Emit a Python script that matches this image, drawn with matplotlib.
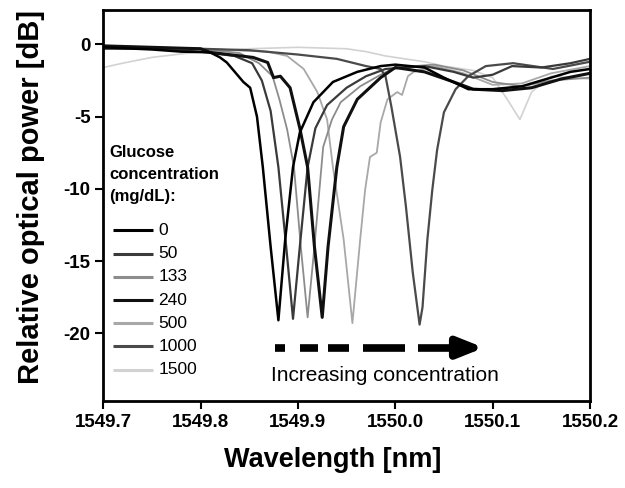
import matplotlib
matplotlib.use("Agg")
import matplotlib.pyplot as plt

plt.rcParams['font.family'] = ['Liberation Sans', 'DejaVu Sans']

# glucose concentration (mg/dL) and line look for each trace
conc_labels = ["0", "50", "133", "240", "500", "1000", "1500"]
conc_colors = ["#000000", "#3a3a3a", "#8c8c8c", "#101010", "#a8a8a8", "#4a4a4a", "#d2d2d2"]
conc_widths = [1.8, 1.6, 1.3, 2.2, 1.3, 1.6, 1.2]

# spectra: wavelength [nm], relative power [dB]
wl_0 = [1549.70, 1549.75, 1549.78, 1549.81, 1549.82, 1549.827, 1549.844, 1549.851, 1549.858, 1549.864,
        1549.872, 1549.880, 1549.887, 1549.895, 1549.902, 1549.916, 1549.936, 1549.961, 1549.985, 1550.00,
        1550.03, 1550.05, 1550.075, 1550.10, 1550.13, 1550.16, 1550.18, 1550.20]
db_0 = [-0.2, -0.35, -0.5, -0.55, -0.9, -1.25, -2.6, -3.0, -5.0, -8.5,
        -14.0, -19.1, -13.5, -8.5, -6.1, -4.0, -2.6, -1.9, -1.5, -1.4,
        -1.6, -2.3, -3.1, -3.1, -2.9, -2.3, -1.9, -1.7]

wl_50 = [1549.70, 1549.75, 1549.80, 1549.835, 1549.853, 1549.863, 1549.872, 1549.880, 1549.888, 1549.895,
         1549.902, 1549.910, 1549.918, 1549.93, 1549.95, 1549.97, 1549.99, 1550.03, 1550.06, 1550.08,
         1550.10, 1550.12, 1550.15, 1550.18, 1550.20]
db_50 = [-0.3, -0.3, -0.5, -0.8, -1.3, -2.5, -4.6, -8.5, -14.0, -19.0,
         -14.0, -8.5, -5.8, -4.2, -3.0, -2.2, -1.7, -1.5, -1.9, -2.3,
         -2.1, -1.5, -1.6, -1.3, -1.0]

wl_133 = [1549.70, 1549.80, 1549.84, 1549.860, 1549.874, 1549.881, 1549.889, 1549.896, 1549.903, 1549.910,
          1549.917, 1549.926, 1549.935, 1549.944, 1549.964, 1549.985, 1550.00, 1550.04, 1550.07, 1550.10,
          1550.13, 1550.16, 1550.20]
db_133 = [-0.1, -0.3, -0.6, -1.3, -2.2, -3.8, -5.9, -8.5, -14.0, -18.9,
          -14.0, -7.1, -5.2, -4.0, -2.9, -2.1, -1.6, -1.4, -1.8, -2.6,
          -2.9, -2.5, -2.3]

wl_240 = [1549.70, 1549.80, 1549.81, 1549.854, 1549.869, 1549.875, 1549.882, 1549.892, 1549.902, 1549.910,
          1549.917, 1549.925, 1549.931, 1549.940, 1549.947, 1549.961, 1549.985, 1550.00, 1550.03, 1550.06,
          1550.08, 1550.11, 1550.14, 1550.17, 1550.20]
db_240 = [-0.1, -0.3, -0.55, -0.9, -1.25, -2.3, -2.2, -3.0, -5.8, -8.5,
          -14.0, -18.9, -14.0, -8.5, -5.7, -3.8, -2.3, -1.6, -1.9, -2.6,
          -3.1, -3.2, -3.0, -2.4, -2.0]

wl_500 = [1549.70, 1549.80, 1549.869, 1549.889, 1549.906, 1549.920, 1549.930, 1549.936, 1549.947, 1549.956,
          1549.964, 1549.969, 1549.974, 1549.981, 1549.985, 1549.992, 1550.002, 1550.007, 1550.013, 1550.019,
          1550.04, 1550.07, 1550.10, 1550.13, 1550.16, 1550.20]
db_500 = [-0.2, -0.3, -0.5, -0.8, -1.7, -3.3, -5.2, -8.5, -13.5, -19.3,
          -13.5, -10.1, -7.8, -7.5, -5.4, -3.8, -3.3, -3.5, -2.2, -1.9,
          -1.5, -2.0, -2.8, -2.7, -2.0, -1.5]

wl_1000 = [1549.70, 1549.80, 1549.85, 1549.90, 1549.94, 1549.97, 1549.985, 1549.990, 1549.996, 1550.005,
           1550.011, 1550.018, 1550.025, 1550.028, 1550.033, 1550.038, 1550.043, 1550.050, 1550.062, 1550.075,
           1550.093, 1550.121, 1550.162, 1550.20]
db_1000 = [-0.2, -0.3, -0.4, -0.7, -1.0, -1.5, -1.7, -2.2, -4.3, -7.8,
           -11.25, -15.8, -19.4, -18.2, -13.5, -10.1, -7.3, -4.7, -3.1, -2.2,
           -1.5, -1.3, -1.7, -1.2]

wl_1500 = [1549.70, 1549.72, 1549.75, 1549.80, 1549.85, 1549.90, 1549.95, 1549.97, 1549.99, 1550.01,
           1550.03, 1550.05, 1550.08, 1550.10, 1550.115, 1550.128, 1550.14, 1550.16, 1550.20]
db_1500 = [-1.6, -1.3, -0.9, -0.5, -0.3, -0.2, -0.3, -0.5, -0.8, -1.0,
           -1.2, -1.5, -1.8, -2.3, -3.8, -5.2, -3.3, -2.2, -2.4]

spectra = [(wl_0, db_0), (wl_50, db_50), (wl_133, db_133), (wl_240, db_240),
           (wl_500, db_500), (wl_1000, db_1000), (wl_1500, db_1500)]

fig = plt.figure(figsize=(6.25, 4.88), dpi=100)
ax = fig.add_axes([0.165, 0.178, 0.779, 0.802])

# draw light traces first so the dark ones sit on top
order = [6, 4, 2, 5, 1, 3, 0]
for i in order:
    wl, db = spectra[i]
    ax.plot(wl, db, color=conc_colors[i], lw=conc_widths[i], solid_joinstyle='round')

ax.set_xlim(1549.7, 1550.2)
ax.set_ylim(-24.7, 2.4)
ax.set_xticks([1549.7, 1549.8, 1549.9, 1550.0, 1550.1, 1550.2])
ax.set_xticklabels(["1549.7", "1549.8", "1549.9", "1550.0", "1550.1", "1550.2"])
ax.set_yticks([0, -5, -10, -15, -20])
ax.set_yticklabels(["0", "-5", "-10", "-15", "-20"])
ax.tick_params(direction='out', length=6, width=1.5, labelsize=13.5, pad=3)
for lab in ax.get_xticklabels() + ax.get_yticklabels():
    lab.set_fontweight('bold')
for s in ax.spines.values():
    s.set_linewidth(2)

fig.text(333 / 625, 1 - 460 / 488, "Wavelength [nm]", fontsize=19.5, fontweight='bold',
         ha='center', va='center')
fig.text(31 / 625, 1 - 197 / 488, "Relative optical power [dB]", fontsize=21, fontweight='bold',
         ha='center', va='center', rotation=90)

# hand-made legend in axes coordinates
ax.text(0.012, 0.655, "Glucose\nconcentration\n(mg/dL):", transform=ax.transAxes,
        fontsize=12, fontweight='bold', va='top', ha='left', linespacing=1.6)
for k, lab in enumerate(conc_labels):
    yy = 0.436 - k * 0.0592
    ax.plot([0.021, 0.103], [yy, yy], transform=ax.transAxes, color=conc_colors[k],
            lw=2.2, solid_capstyle='butt')
    ax.text(0.113, yy, lab, transform=ax.transAxes, fontsize=12.5, va='center', ha='left')

# dashed arrow
dash_x = [(1549.877, 1549.887), (1549.902, 1549.921), (1549.931, 1549.952),
          (1549.967, 1550.010), (1550.023, 1550.062)]
for x0, x1 in dash_x:
    ax.plot([x0, x1], [-21.0, -21.0], color='black', lw=5.5, solid_capstyle='butt')
ax.annotate("", xy=(1550.091, -21.0), xytext=(1550.058, -21.0),
            arrowprops=dict(arrowstyle='-|>,head_length=1.5,head_width=0.6', color='black',
                            lw=5.5, shrinkA=0, shrinkB=0))
ax.text(1549.872, -22.9, "Increasing concentration", fontsize=15, va='center', ha='left')

fig.savefig("out.png", dpi=100)
